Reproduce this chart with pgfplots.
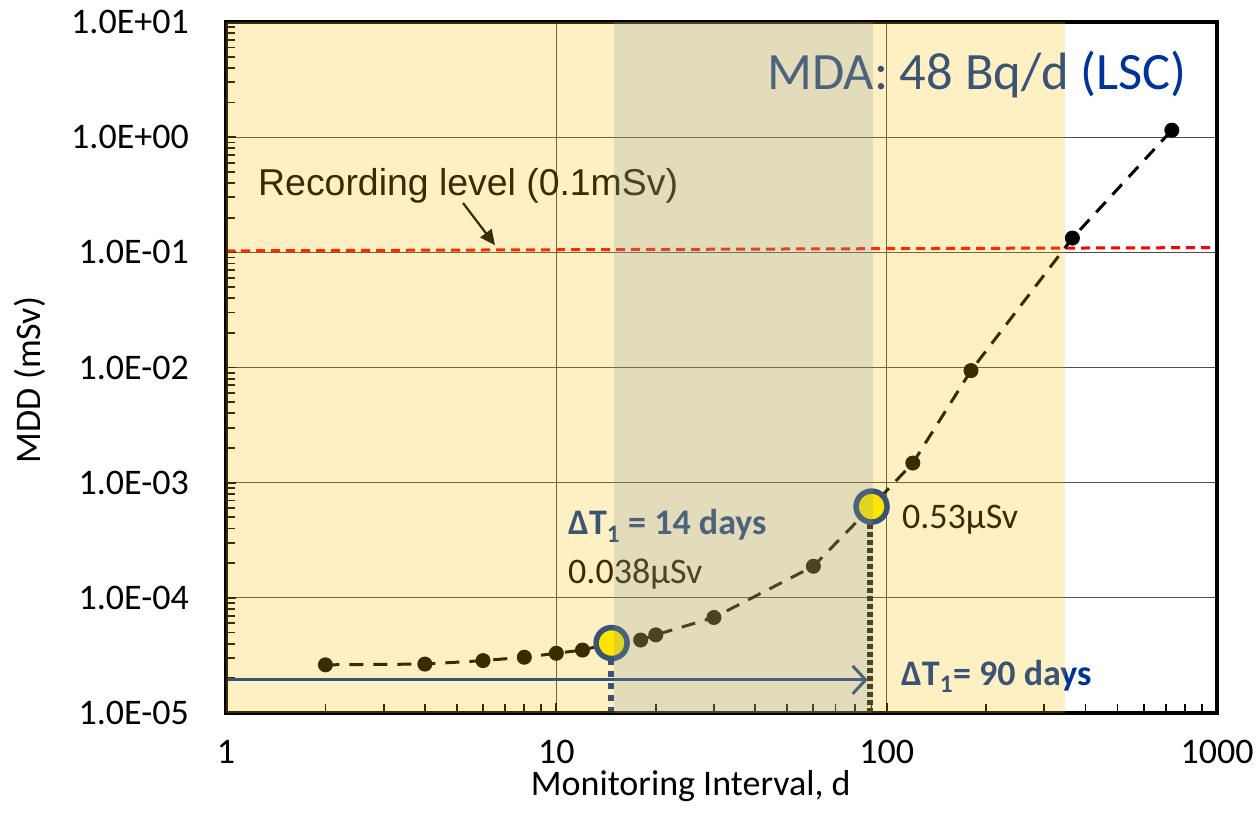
\documentclass[border=0pt]{standalone}
\usepackage{pgfplots}
\pgfplotsset{compat=1.18}
\usepackage{fontspec}
\setmainfont{Carlito}
\newfontfamily\arialfont{Liberation Sans}
\usetikzlibrary{arrows.meta}
\definecolor{txtblue}{RGB}{0,51,153}
\definecolor{tanov}{RGB}{255,190,0}
\definecolor{grayov}{RGB}{131,154,150}
\begin{document}
\begin{tikzpicture}[x=1pt,y=1pt]
\begin{axis}[
  name=ax,
  set layers=standard,
  tick style={/pgfplots/on layer=axis foreground},
  axis line style={/pgfplots/on layer=axis foreground},
  at={(226pt,107pt)}, anchor=south west,
  width=991pt, height=691pt, scale only axis,
  xmode=log, ymode=log,
  xmin=1, xmax=1000, ymin=1e-5, ymax=10,
  tick pos=left, tick align=inside,
  xtick={1,10,100,1000},
  xticklabels={1,10,100,1000},
  minor xtick={2,3,4,5,6,7,8,9,20,30,40,50,60,70,80,90,200,300,400,500,600,700,800,900},
  ytick={1e-5,1e-4,1e-3,1e-2,1e-1,1,10},
  yticklabels={1.0E-05,1.0E-04,1.0E-03,1.0E-02,1.0E-01,1.0E+00,1.0E+01},
  minor ytick={2e-5,3e-5,4e-5,5e-5,6e-5,7e-5,8e-5,9e-5,
    2e-4,3e-4,4e-4,5e-4,6e-4,7e-4,8e-4,9e-4,
    2e-3,3e-3,4e-3,5e-3,6e-3,7e-3,8e-3,9e-3,
    2e-2,3e-2,4e-2,5e-2,6e-2,7e-2,8e-2,9e-2,
    0.2,0.3,0.4,0.5,0.6,0.7,0.8,0.9,
    2,3,4,5,6,7,8,9},
  major tick length=10pt, minor tick length=9pt,
  every tick/.append style={line width=1.8pt, black},
  grid=major,
  major grid style={black!70, line width=1.3pt},
  /pgf/number format/assume math mode=true,
  tick label style={font=\fontsize{36}{40}\selectfont, inner sep=0pt},
  xticklabel style={anchor=base, yshift=-50pt},
  yticklabel style={anchor=east, xshift=-37pt},
  xlabel={Monitoring Interval, d},
  ylabel={MDD (mSv)},
  label style={font=\fontsize{36}{40}\selectfont, inner sep=0pt},
  xlabel style={at={(axis description cs:0.469,0)}, anchor=base, yshift=-82pt},
  ylabel style={at={(axis description cs:-0.198,0.482)}, anchor=center},
  clip=true,
]
% recording level
\addplot[red, line width=3pt, dash pattern=on 9pt off 6pt] coordinates {(1,0.103) (1000,0.11)};
% blue arrow
\addplot[txtblue, line width=3pt, -{Straight Barb[length=13pt, width=28pt, line width=3pt]}] coordinates {(1,1.94e-5) (87.6,1.94e-5)};
% vertical dotted lines
\addplot[txtblue, line width=6pt, dash pattern=on 6pt off 6pt] coordinates {(14.6,1e-5) (14.6,3.3e-5)};
\addplot[black, line width=5.5pt, dash pattern=on 5pt off 3pt] coordinates {(89,1e-5) (89,5e-4)};
% data
\addplot[black, line width=3pt, dash pattern=on 14pt off 10pt, mark=*, mark size=7pt, mark options={solid, fill=black, line width=1pt}] coordinates {
(2,2.62e-5) (4,2.66e-5) (6,2.85e-5) (8,3.05e-5) (10,3.3e-5) (12,3.52e-5) (14.7,4.05e-5) (18,4.3e-5) (20,4.77e-5) (30,6.75e-5) (60,1.88e-4) (90,6.2e-4) (120,1.48e-3) (180,9.4e-3) (365,0.133) (730,1.15)};
% highlighted points
\addplot[only marks, mark=*, mark size=15.5pt, mark options={fill=yellow, draw=txtblue, line width=5.5pt}] coordinates {(14.7,4.05e-5) (90,6.2e-4)};
% texts
\node[anchor=base west, inner sep=0pt, text=txtblue, font=\fontsize{52.5}{60}\selectfont] at (rel axis cs:0.5459,0.903) {MDA: 48 Bq/d (LSC)};
\node[anchor=base west, inner sep=0pt, text=black, font=\arialfont\fontsize{37.4}{42}\selectfont] at (rel axis cs:0.0323,0.7496) {Recording level (0.1mSv)};
\draw[black, line width=2.2pt, -{Triangle[length=15pt, width=14pt]}] (rel axis cs:0.2392,0.7380) -- (rel axis cs:0.2714,0.6772);
\node[anchor=base west, inner sep=0pt, text=txtblue, font=\bfseries\fontsize{36}{40}\selectfont] at (rel axis cs:0.3451,0.2576) {ΔT\textsubscript{1} = 14 days};
\node[anchor=base west, inner sep=0pt, text=black, font=\fontsize{36}{40}\selectfont] at (rel axis cs:0.3451,0.1881) {0.038µSv};
\node[anchor=base west, inner sep=0pt, text=black, font=\fontsize{36}{40}\selectfont] at (rel axis cs:0.6821,0.2677) {0.53µSv};
\node[anchor=base west, inner sep=0pt, text=txtblue, font=\bfseries\fontsize{36}{40}\selectfont] at (rel axis cs:0.6811,0.0405) {ΔT\textsubscript{1}= 90 days};
% overlays
\addplot[draw=none, fill=tanov, fill opacity=0.23, on layer=axis descriptions] coordinates {(1,1e-5) (1,10) (347,10) (347,1e-5)};
\addplot[draw=none, fill=grayov, fill opacity=0.23, on layer=axis descriptions] coordinates {(14.9,1e-5) (14.9,10) (90.9,10) (90.9,1e-5)};
\end{axis}
\draw[black, line width=3.6pt] (ax.south west) rectangle (ax.north east);
\pgfresetboundingbox
\path[use as bounding box] (0,0) rectangle (1256,820);
\end{tikzpicture}
\end{document}
